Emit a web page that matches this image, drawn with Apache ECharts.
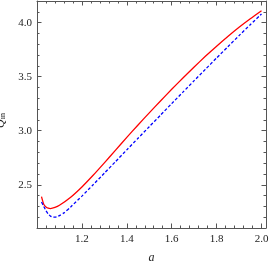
<!DOCTYPE html>
<html><head><meta charset="utf-8">
<script src="https://cdn.jsdelivr.net/npm/echarts@6/dist/echarts.min.js"></script>
<style>html,body{margin:0;padding:0;background:#fff}#c{width:270px;height:265px}</style>
</head><body><div id="c"></div>
<script>
const aRed = [1.02,1.03,1.04,1.05,1.06,1.08,1.10,1.15,1.20,1.25,1.30,1.35,1.40,1.45,1.50,1.55,1.60,1.65,1.70,1.75,1.80,1.85,1.90,1.95,2.00];
const qRed = [2.39,2.32,2.295,2.283,2.28,2.29,2.31,2.385,2.48,2.588,2.703,2.82,2.938,3.053,3.165,3.275,3.383,3.488,3.59,3.688,3.782,3.872,3.957,4.036,4.11];
const aBlue = [1.02,1.03,1.04,1.05,1.06,1.07,1.08,1.09,1.10,1.12,1.15,1.20,1.25,1.30,1.35,1.40,1.45,1.50,1.55,1.60,1.65,1.70,1.75,1.80,1.85,1.90,1.95,2.00];
const qBlue = [2.34,2.30,2.26,2.23,2.21,2.201,2.20,2.205,2.215,2.24,2.295,2.395,2.50,2.607,2.715,2.823,2.93,3.037,3.144,3.251,3.357,3.463,3.568,3.673,3.777,3.88,3.981,4.08];
const xTicks = [1.2,1.4,1.6,1.8,2.0];
const yTicks = [2.5,3.0,3.5,4.0];

const frame = '#555';
const font = 'Liberation Serif';
const xmin = 1.0, xmax = 2.02, ymin = 2.1, ymax = 4.2;

function xAx(pos, labels){
  return {type:'value', position:pos, min:xmin, max:xmax, interval:0.2,
    axisLine:{show:true,onZero:false,lineStyle:{color:frame,width:1}},
    axisTick:{show:true,inside:true,length:4.5,lineStyle:{color:frame}},
    minorTick:{show:true,splitNumber:5,length:2.5,lineStyle:{color:frame}},
    splitLine:{show:false},
    axisLabel:{show:labels,margin:6,color:'#222',fontFamily:font,fontSize:11,
      formatter:v=>xTicks.some(t=>Math.abs(t-v)<1e-6)?v.toFixed(1):''},
    name: labels?'a':'', nameLocation:'middle', nameGap:24,
    nameTextStyle:{fontFamily:font,fontStyle:'italic',fontSize:12,color:'#222'}
  };
}
function yMinor(pos, labels){
  return {type:'value', position:pos, min:ymin, max:ymax, interval:0.1,
    axisLine:{show:true,onZero:false,lineStyle:{color:frame,width:1}},
    axisTick:{show:true,inside:true,length:2.5,lineStyle:{color:frame}},
    splitLine:{show:false},
    axisLabel:{show:labels,margin:5,color:'#222',fontFamily:font,fontSize:11,
      formatter:v=>yTicks.some(t=>Math.abs(t-v)<1e-6)?v.toFixed(1):''},
    name: labels?'{q|Q}{s|in}':'', nameLocation:'middle', nameGap:21, nameRotate:90,
    nameTextStyle:{color:'#222',padding:[0,12,0,0],rich:{
      q:{fontFamily:font,fontStyle:'italic',fontSize:12,color:'#222'},
      s:{fontFamily:font,fontSize:8,color:'#222',verticalAlign:'bottom',padding:[5,0,0,0]}}}
  };
}
function yMajor(pos){
  return {type:'value', position:pos, min:ymin, max:ymax,
    axisLine:{show:false},
    axisTick:{show:true,inside:true,length:4.5,customValues:yTicks,lineStyle:{color:frame}},
    axisLabel:{show:false},
    splitLine:{show:false}
  };
}

const chart = echarts.init(document.getElementById('c'), null, {renderer:'canvas'});
chart.setOption({
  animation:false,
  backgroundColor:'#fff',
  grid:{left:37,right:4,top:1,bottom:37,containLabel:false,outerBoundsMode:'none'},
  xAxis:[xAx('bottom',true), xAx('top',false)],
  yAxis:[yMinor('left',true), yMajor('left'), yMinor('right',false), yMajor('right')],
  series:[
    {type:'line', xAxisIndex:0, yAxisIndex:0, showSymbol:false, smooth:0.2,
     data:aRed.map((a,i)=>[a,qRed[i]]), lineStyle:{color:'#ff0000',width:1.3}},
    {type:'line', xAxisIndex:0, yAxisIndex:0, showSymbol:false, smooth:0.2,
     data:aBlue.map((a,i)=>[a,qBlue[i]]), lineStyle:{color:'#0000ff',width:1.3,type:[3,2]}}
  ]
});
</script></body></html>
